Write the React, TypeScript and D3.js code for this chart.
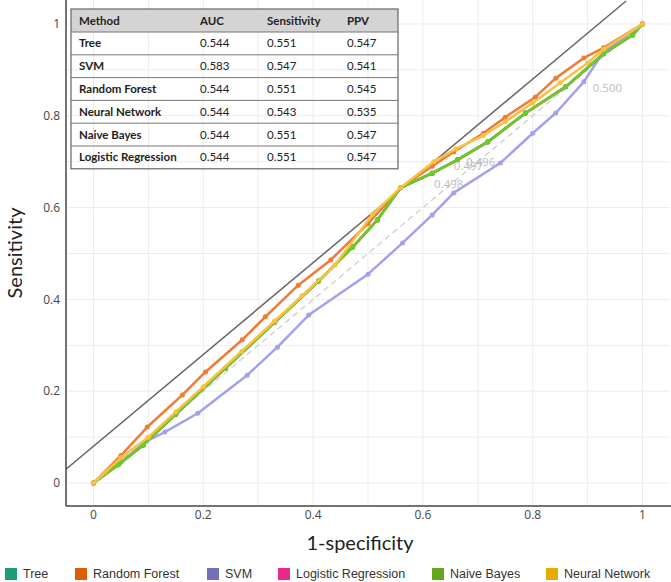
import React from "react";
import * as d3 from "d3";

type Pt = [number, number];

const methods = ["Tree", "Random Forest", "SVM", "Logistic Regression", "Naive Bayes", "Neural Network"];
const legendColors = ["#1b9e77", "#d95f02", "#7570b3", "#e7298a", "#66a61e", "#e6ab02"];
const lineColors = ["#1b9e77", "#f07a36", "#a3a0ee", "#e7298a", "#66d11c", "#f6c23f"];

const treeRoc: Pt[] = [[0,0],[0.045,0.04],[0.091,0.083],[0.15,0.15],[0.24,0.25],[0.33,0.35],[0.41,0.44],[0.472,0.514],[0.517,0.573],[0.559,0.643],[0.617,0.675],[0.663,0.704],[0.718,0.743],[0.787,0.806],[0.86,0.863],[0.929,0.935],[0.982,0.976],[1,1]];
const rfRoc: Pt[] = [[0,0],[0.05,0.06],[0.098,0.122],[0.162,0.192],[0.204,0.242],[0.271,0.312],[0.313,0.362],[0.373,0.431],[0.432,0.486],[0.5,0.565],[0.559,0.643],[0.617,0.69],[0.656,0.721],[0.71,0.762],[0.75,0.797],[0.805,0.841],[0.842,0.882],[0.893,0.926],[0.929,0.948],[1,1]];
const svmRoc: Pt[] = [[0,0],[0.05,0.045],[0.095,0.09],[0.13,0.111],[0.19,0.152],[0.28,0.235],[0.335,0.296],[0.392,0.366],[0.5,0.455],[0.563,0.523],[0.617,0.584],[0.656,0.632],[0.741,0.697],[0.8,0.762],[0.842,0.806],[0.893,0.874],[0.929,0.939],[1,1]];
const lrRoc: Pt[] = [[0,0],[0.045,0.04],[0.091,0.083],[0.15,0.15],[0.24,0.25],[0.33,0.35],[0.41,0.44],[0.472,0.514],[0.517,0.573],[0.559,0.643],[0.617,0.675],[0.663,0.704],[0.718,0.743],[0.787,0.806],[0.86,0.863],[0.929,0.935],[0.982,0.976],[1,1]];
const nbRoc: Pt[] = [[0,0],[0.045,0.04],[0.091,0.083],[0.15,0.15],[0.24,0.25],[0.33,0.35],[0.41,0.44],[0.472,0.514],[0.517,0.573],[0.559,0.643],[0.617,0.675],[0.663,0.704],[0.718,0.743],[0.787,0.806],[0.86,0.863],[0.929,0.935],[0.982,0.976],[1,1]];
const nnRoc: Pt[] = [[0,0],[0.05,0.055],[0.1,0.1],[0.15,0.155],[0.2,0.21],[0.27,0.287],[0.33,0.353],[0.38,0.408],[0.44,0.475],[0.508,0.585],[0.559,0.643],[0.62,0.7],[0.66,0.728],[0.71,0.757],[0.75,0.787],[0.8,0.828],[0.85,0.872],[0.9,0.915],[0.929,0.945],[1,1]];
const rocSeries: Pt[][] = [treeRoc, rfRoc, svmRoc, lrRoc, nbRoc, nnRoc];

const tableHeader = ["Method", "AUC", "Sensitivity", "PPV"];
const tableMethods = ["Tree", "SVM", "Random Forest", "Neural Network", "Naive Bayes", "Logistic Regression"];
const tableAUC = ["0.544", "0.583", "0.544", "0.544", "0.544", "0.544"];
const tableSens = ["0.551", "0.547", "0.551", "0.543", "0.551", "0.551"];
const tablePPV = ["0.547", "0.541", "0.545", "0.535", "0.547", "0.547"];

const thresholdLabels = ["0.500", "0.497", "0.496", "0.498"];
const thresholdPos: Pt[] = [[0.936, 0.861], [0.683, 0.690], [0.705, 0.699], [0.647, 0.651]];

const tickValues = [0, 0.2, 0.4, 0.6, 0.8, 1];
const tickLabels = ["0", "0.2", "0.4", "0.6", "0.8", "1"];
const gridValues = [0, 0.1, 0.2, 0.3, 0.4, 0.5, 0.6, 0.7, 0.8, 0.9, 1];
const refOffset = 0.08;

export default function App() {
  const W = 671, H = 582;
  const L = 66, R = 670, T = 1, B = 506;
  const x = d3.scaleLinear().domain([-0.05, 1.05]).range([L, R]);
  const y = d3.scaleLinear().domain([-0.05, 1.05]).range([B, T]);
  const line = d3.line<Pt>().x(d => x(d[0])).y(d => y(d[1]));

  const tick = "'Open Sans', sans-serif";
  const cal = "Lato, 'Open Sans', sans-serif";

  const tblL = 71, tblR = 398, tblT = 9, hdrH = 23, rowH = 22.8;
  const colX = [79, 200, 267, 347];
  const legendX = [5, 75, 207, 278, 432, 546];

  return (
    <svg width={W} height={H} style={{ position: "absolute", left: 0, top: 0, background: "#fff" }}>
      <defs>
        <clipPath id="plotclip"><rect x={L} y={0} width={R - L} height={B} /></clipPath>
      </defs>
      {gridValues.map((v, i) => (
        <g key={"g" + i}>
          <line x1={x(v)} x2={x(v)} y1={0} y2={B} stroke="#ececec" strokeWidth={1} />
          <line x1={L} x2={R} y1={y(v)} y2={y(v)} stroke="#ececec" strokeWidth={1} />
        </g>
      ))}
      <g clipPath="url(#plotclip)">
        <line x1={x(0)} y1={y(0)} x2={x(1)} y2={y(1)} stroke="#cfcfcf" strokeWidth={1.3} strokeDasharray="6,4" />
        <line x1={x(-0.05)} y1={y(-0.05 + refOffset)} x2={x(1.05 - refOffset)} y2={y(1.05)} stroke="#666" strokeWidth={1.5} />
        {rocSeries.map((s, i) => (
          <g key={"s" + i}>
            <path d={line(s) || ""} fill="none" stroke={lineColors[i]} strokeWidth={2.5} strokeLinejoin="round" />
            {s.map((p, j) => (
              <circle key={j} cx={x(p[0])} cy={y(p[1])} r={2.5} fill={lineColors[i]} />
            ))}
          </g>
        ))}
        {thresholdLabels.map((t, i) => (
          <text key={"t" + i} x={x(thresholdPos[i][0])} y={y(thresholdPos[i][1])} dy="0.35em" textAnchor="middle"
            fontFamily={tick} fontSize={11.5} fill="#bdbdbd">{t}</text>
        ))}
      </g>
      <line x1={L} x2={L} y1={0} y2={B} stroke="#444" strokeWidth={1.5} />
      <line x1={L} x2={W} y1={B} y2={B} stroke="#444" strokeWidth={1.5} />
      {tickValues.map((v, i) => (
        <g key={"tk" + i}>
          <text x={x(v)} y={515} dy="0.35em" textAnchor="middle" fontFamily={tick} fontSize={12} fill="#444">{tickLabels[i]}</text>
          <text x={60} y={y(v)} dy="0.35em" textAnchor="end" fontFamily={tick} fontSize={12} fill="#444">{tickLabels[i]}</text>
        </g>
      ))}
      <text x={360} y={543} dy="0.35em" textAnchor="middle" fontFamily={cal} fontSize={20} fill="#222">1-specificity</text>
      <text transform={`translate(15,${253}) rotate(-90)`} dy="0.35em" textAnchor="middle" fontFamily={cal} fontSize={20} fill="#222">Sensitivity</text>

      {/* table */}
      <rect x={tblL} y={tblT} width={tblR - tblL} height={hdrH} fill="#d4d4d4" />
      <rect x={tblL} y={tblT} width={tblR - tblL} height={hdrH + rowH * tableMethods.length} fill="none" stroke="#666" strokeWidth={1.2} />
      {tableMethods.map((m, i) => (
        <line key={"rl" + i} x1={tblL} x2={tblR} y1={tblT + hdrH + rowH * i} y2={tblT + hdrH + rowH * i} stroke="#777" strokeWidth={1} />
      ))}
      {tableHeader.map((h, j) => (
        <text key={"h" + j} x={colX[j]} y={tblT + hdrH / 2} dy="0.35em" fontFamily={cal} fontSize={11.5} fontWeight={700} fill="#222">{h}</text>
      ))}
      {tableMethods.map((m, i) => {
        const cy = tblT + hdrH + rowH * i + rowH / 2;
        const vals = [m, tableAUC[i], tableSens[i], tablePPV[i]];
        return vals.map((v, j) => (
          <text key={"c" + i + "-" + j} x={colX[j]} y={cy} dy="0.35em" fontFamily={cal} fontSize={11.5}
            fontWeight={j === 0 ? 700 : 400} fill="#222">{v}</text>
        ));
      })}

      {/* legend */}
      {methods.map((m, i) => (
        <g key={"lg" + i} transform={`translate(${legendX[i]},574)`}>
          <rect x={0} y={-6} width={12} height={12} fill={legendColors[i]} />
          <text x={18} y={0} dy="0.35em" fontFamily="'Liberation Sans', Arial, sans-serif" fontSize={12.5} fill="#333">{m}</text>
        </g>
      ))}
    </svg>
  );
}
